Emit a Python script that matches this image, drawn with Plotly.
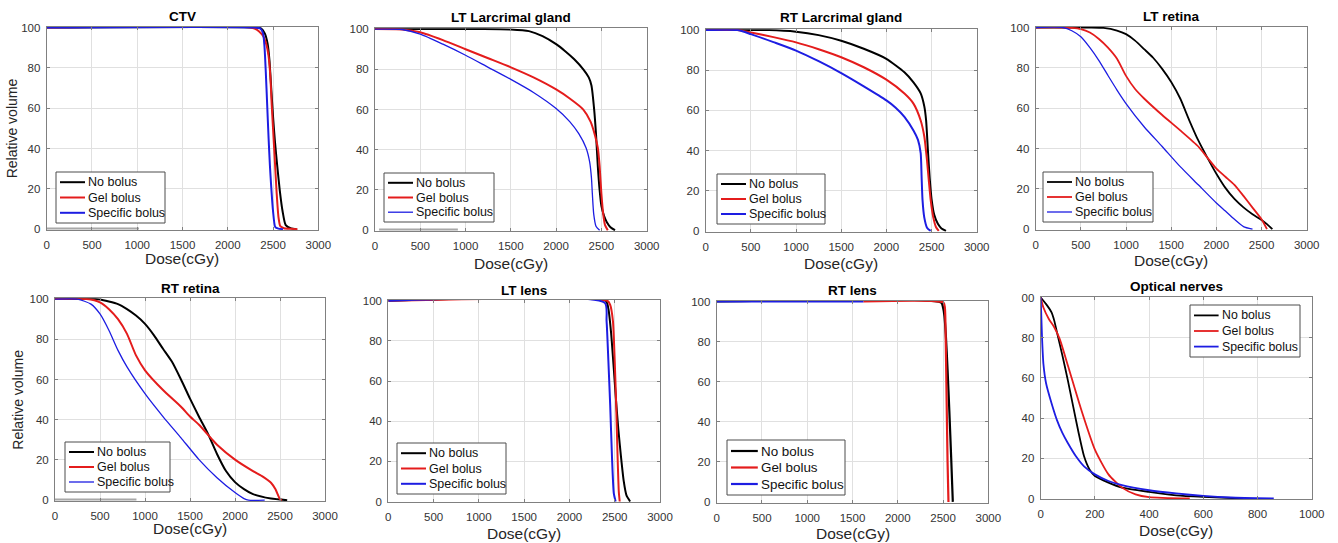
import plotly.graph_objects as go

W, H = 1338, 543
FONT = "Liberation Sans, Arial, sans-serif"

# ---------------- data (dose in cGy, relative volume in %) ----------------
# CTV
CTV_NO_X = [0, 2300, 2370, 2410, 2440, 2460, 2480, 2500, 2520, 2545, 2575, 2605, 2640, 2700, 2760]
CTV_NO_Y = [100, 100, 99.5, 97, 92, 84, 70, 56, 44, 32, 19, 9, 2, 0.4, 0]
CTV_GEL_X = [0, 2250, 2320, 2370, 2400, 2430, 2450, 2470, 2485, 2500, 2520, 2540, 2560, 2580, 2620, 2700, 2770]
CTV_GEL_Y = [100, 100, 99, 97, 95, 91, 86, 76, 62, 50, 34, 18, 6, 1.5, 0.5, 0.2, 0]
CTV_SPEC_X = [0, 2300, 2360, 2390, 2405, 2420, 2435, 2450, 2465, 2480, 2500, 2525, 2560, 2610]
CTV_SPEC_Y = [100, 100, 99.5, 97, 91, 78, 62, 46, 32, 21, 9, 1, 0.3, 0]

# LT lacrimal gland
LTL_NO_X = [0, 1200, 1500, 1700, 1850, 2000, 2100, 2200, 2300, 2360, 2390, 2420, 2440, 2460, 2480, 2500, 2530, 2560, 2600, 2650]
LTL_NO_Y = [100, 100, 99.8, 99, 96.5, 92.5, 89, 85, 80, 76, 72, 60, 48, 32, 20, 12, 7, 4, 1.5, 0]
LTL_GEL_X = [0, 300, 500, 750, 1000, 1250, 1500, 1750, 2000, 2150, 2300, 2380, 2430, 2460, 2480, 2500, 2520, 2540, 2570]
LTL_GEL_Y = [100, 99.8, 98.4, 94.5, 90, 85.5, 81, 76, 70, 65.5, 60, 54, 47, 41, 32, 18, 8, 2.5, 0]
LTL_SPEC_X = [0, 300, 500, 750, 1000, 1250, 1500, 1750, 2000, 2150, 2250, 2330, 2370, 2390, 2400, 2415, 2440, 2480]
LTL_SPEC_Y = [100, 99.8, 97.5, 92.5, 87, 81, 75, 68.5, 60.5, 54, 48, 41, 34, 26, 18, 8, 2, 0]

# RT lacrimal gland
RTL_NO_X = [0, 700, 1000, 1250, 1500, 1750, 2000, 2200, 2300, 2380, 2420, 2440, 2460, 2480, 2500, 2530, 2570, 2610, 2660]
RTL_NO_Y = [100, 100, 99.2, 97.5, 94.7, 90.7, 85.7, 79, 74, 68.5, 62, 55, 40, 26, 16, 8, 3.5, 1.2, 0]
RTL_GEL_X = [0, 350, 500, 750, 1000, 1250, 1500, 1750, 2000, 2200, 2300, 2380, 2420, 2450, 2470, 2490, 2520, 2550, 2580]
RTL_GEL_Y = [100, 100, 98.8, 96.5, 93.9, 90.5, 86.5, 81.5, 75.3, 68.4, 63.4, 55, 47, 35, 25, 15.6, 6.6, 1.8, 0]
RTL_SPEC_X = [0, 350, 500, 750, 1000, 1250, 1500, 1750, 2000, 2100, 2200, 2300, 2350, 2380, 2390, 2400, 2420, 2450, 2490]
RTL_SPEC_Y = [100, 100, 98, 94, 89.8, 84.5, 78.6, 72, 65, 61.5, 56.8, 50, 45.3, 38.7, 27, 15.6, 6.6, 1.6, 0]

# LT retina
LTR_NO_X = [0, 600, 750, 900, 1000, 1100, 1200, 1300, 1400, 1500, 1600, 1700, 1800, 1900, 2000, 2100, 2200, 2300, 2400, 2500, 2560, 2620]
LTR_NO_Y = [100, 100, 99.8, 98.5, 96.7, 93.5, 89.3, 85, 79.5, 73, 64.8, 54, 44, 35.5, 27.5, 20.5, 15, 10.8, 7.4, 4.6, 2.5, 0]
LTR_GEL_X = [0, 300, 400, 500, 600, 700, 800, 900, 1000, 1100, 1200, 1400, 1600, 1800, 1900, 2000, 2100, 2200, 2300, 2400, 2500, 2560]
LTR_GEL_Y = [100, 100, 99.8, 99.2, 97.5, 94.3, 90, 84.5, 76, 69.5, 64.8, 56.6, 49, 41, 35.5, 30, 26, 22, 16.5, 10.7, 4.9, 0]
LTR_SPEC_X = [0, 300, 400, 500, 600, 700, 800, 900, 1000, 1200, 1400, 1600, 1800, 2000, 2100, 2200, 2300, 2400]
LTR_SPEC_Y = [100, 100, 98.4, 95.4, 90, 83.6, 76.2, 69, 62.3, 50.8, 41, 31, 22, 13, 9, 4.9, 1.3, 0]

# RT retina
RTR_NO_X = [0, 450, 500, 700, 800, 900, 1000, 1100, 1200, 1300, 1400, 1500, 1600, 1700, 1800, 1900, 2000, 2100, 2200, 2400, 2580]
RTR_NO_Y = [100, 100, 99.8, 97.5, 95, 91.8, 87.7, 82, 75.3, 68.8, 60, 50.5, 41.5, 33, 23, 14.5, 9, 5.5, 3, 0.8, 0]
RTR_GEL_X = [0, 350, 500, 600, 700, 800, 900, 1000, 1200, 1400, 1500, 1600, 1750, 1800, 2000, 2200, 2300, 2400, 2450, 2500, 2520]
RTR_GEL_Y = [100, 100, 98.4, 95, 90, 82.7, 72, 64.6, 54.8, 46.5, 41.6, 37.5, 30, 27.6, 20.2, 14.5, 12, 8.7, 5.4, 0.5, 0]
RTR_SPEC_X = [0, 250, 400, 500, 600, 700, 800, 1000, 1200, 1400, 1600, 1800, 2000, 2100, 2150, 2330]
RTR_SPEC_Y = [100, 100, 97.5, 92.6, 84.4, 74.5, 66.3, 53, 41.6, 31, 20.2, 11.2, 3.8, 0.8, 0, 0]

# LT lens
LTN_NO_X = [0, 2400, 2430, 2460, 2490, 2515, 2540, 2570, 2600, 2630, 2670]
LTN_NO_Y = [100, 100, 96, 84, 66, 50, 36, 22, 10, 3, 0]
LTN_GEL_X = [0, 2420, 2450, 2480, 2500, 2515, 2530, 2545, 2555]
LTN_GEL_Y = [100, 100, 98, 90, 70, 50, 25, 5, 0]
LTN_SPEC_X = [0, 2390, 2410, 2430, 2450, 2470, 2490, 2510]
LTN_SPEC_Y = [100, 99, 90, 70, 48, 22, 4, 0]

# RT lens
RTN_NO_X = [0, 2480, 2500, 2515, 2530, 2550, 2570, 2590, 2608]
RTN_NO_Y = [100, 99.5, 97, 93, 84, 66, 45, 22, 0]
RTN_GEL_X = [1620, 2505, 2520, 2530, 2540, 2550, 2560]
RTN_GEL_Y = [100, 99.5, 97, 80, 50, 20, 0]
RTN_SPEC_X = [0, 1620]
RTN_SPEC_Y = [100, 100]

# Optical nerves
ON_NO_X = [0, 20, 40, 50, 60, 80, 100, 120, 140, 160, 180, 200, 250, 300, 400, 500, 600, 750]
ON_NO_Y = [100, 96.7, 92.6, 88.5, 82.7, 71.2, 58.9, 45.7, 32.6, 21, 14.5, 11.2, 7.9, 5.4, 3.3, 1.6, 0.8, 0]
ON_GEL_X = [0, 10, 30, 50, 70, 100, 150, 200, 250, 300, 350, 400, 550]
ON_GEL_Y = [100, 95, 89.3, 85.2, 79.4, 66.3, 44, 24.3, 12, 5.4, 2.1, 0.7, 0]
ON_SPEC_X = [0, 5, 10, 20, 40, 60, 80, 100, 130, 160, 200, 250, 300, 400, 500, 600, 700, 860]
ON_SPEC_Y = [100, 80, 67, 57.2, 47.4, 39, 32.6, 27.6, 21, 16, 12, 8.7, 6.6, 4.1, 2.5, 1.3, 0.5, 0]

SERIES_NAMES = ["No bolus", "Gel bolus", "Specific bolus"]
PANEL_TITLES = ["CTV", "LT Larcrimal gland", "RT Larcrimal gland", "LT retina",
                "RT retina", "LT lens", "RT lens", "Optical nerves"]
X_LABEL = "Dose(cGy)"
Y_LABEL = "Relative volume"
DOSE_TICKS = [0, 500, 1000, 1500, 2000, 2500, 3000]
NERVE_TICKS = [0, 200, 400, 600, 800, 1000]
VOL_TICKS = [0, 20, 40, 60, 80, 100]
VOL_TICKTEXT_CLIPPED = ["0", "20", "40", "60", "80", "00"]

PANEL_DATA = [
    [(CTV_NO_X, CTV_NO_Y), (CTV_GEL_X, CTV_GEL_Y), (CTV_SPEC_X, CTV_SPEC_Y)],
    [(LTL_NO_X, LTL_NO_Y), (LTL_GEL_X, LTL_GEL_Y), (LTL_SPEC_X, LTL_SPEC_Y)],
    [(RTL_NO_X, RTL_NO_Y), (RTL_GEL_X, RTL_GEL_Y), (RTL_SPEC_X, RTL_SPEC_Y)],
    [(LTR_NO_X, LTR_NO_Y), (LTR_GEL_X, LTR_GEL_Y), (LTR_SPEC_X, LTR_SPEC_Y)],
    [(RTR_NO_X, RTR_NO_Y), (RTR_GEL_X, RTR_GEL_Y), (RTR_SPEC_X, RTR_SPEC_Y)],
    [(LTN_NO_X, LTN_NO_Y), (LTN_GEL_X, LTN_GEL_Y), (LTN_SPEC_X, LTN_SPEC_Y)],
    [(RTN_NO_X, RTN_NO_Y), (RTN_GEL_X, RTN_GEL_Y), (RTN_SPEC_X, RTN_SPEC_Y)],
    [(ON_NO_X, ON_NO_Y), (ON_GEL_X, ON_GEL_Y), (ON_SPEC_X, ON_SPEC_Y)],
]

# ---------------- style / layout (pixels) ----------------
COLORS = ["#000000", "#e41c1c", "#1d1de2"]
FRAME = "#808080"
GRID = "#e0e0e0"
TICKC = "#333333"

# axes box in pixels: left, top, right, bottom
BOXES = [(46.7, 26.7, 318.3, 230), (375, 28.3, 646.7, 231), (705.7, 29.3, 976.7, 231.7),
         (1035.7, 26.7, 1306.7, 230), (55, 298.3, 325, 501), (388.3, 300, 660, 502.3),
         (716.7, 300.7, 988.3, 502.7), (1040.7, 296.7, 1311.7, 499.3)]
TITLE_Y = [16.7, 17.3, 17.7, 16.7, 288.3, 290, 290.7, 286]
XLAB_Y = [258.5, 263, 263, 260, 528, 533.5, 533.5, 530.5]
# legend box: left, top, width, height (pixels) and font size
LEGEND_BOX = [(56, 172, 109, 51), (384, 173, 110, 49), (717, 174, 108, 50), (1043, 172, 110, 50),
              (65, 442, 105, 50), (397, 443, 109, 51), (727, 440, 118, 55), (1190, 305, 110, 52)]
LEGEND_FONT = [12.5, 12.5, 12.5, 12.5, 12.5, 12.5, 13.4, 12.3]
LINE_W = [[2.0, 2.0, 2.0], [2.0, 2.0, 1.3], [2.0, 2.0, 2.0], [1.8, 1.8, 1.3],
          [2.0, 2.0, 1.3], [2.0, 2.0, 2.0], [2.2, 2.2, 2.2], [1.8, 1.8, 1.8]]
# faint grey double-line artefact along the bottom axis of some panels: (panel, x-from, x-to)
BOTTOM_STREAKS = [(0, 0, 1020), (1, 45, 915), (4, 0, 905)]


def px_x(p):
    return p / W


def px_y(p):
    return 1 - p / H


fig = go.Figure()
annotations = []
shapes = []
layout = dict(
    template="none",
    width=W, height=H,
    margin=dict(l=0, r=0, t=0, b=0, pad=0, autoexpand=False),
    paper_bgcolor="white", plot_bgcolor="white",
    font=dict(family=FONT, color=TICKC),
    showlegend=False,
)

for i in range(8):
    n = i + 1
    xa = "x" if n == 1 else f"x{n}"
    ya = "y" if n == 1 else f"y{n}"
    for j, (xs, ys) in enumerate(PANEL_DATA[i]):
        fig.add_trace(go.Scatter(
            x=xs, y=ys, mode="lines", name=SERIES_NAMES[j],
            line=dict(color=COLORS[j], width=LINE_W[i][j], shape="spline", smoothing=0.6),
            xaxis=xa, yaxis=ya, showlegend=False,
        ))
    l, t, r, b = BOXES[i]
    nerves = (i == 7)
    xticks = NERVE_TICKS if nerves else DOSE_TICKS
    xmax = 1000 if nerves else 3000
    axis_common = dict(
        showline=True, linecolor=FRAME, linewidth=1, mirror="ticks",
        ticks="inside", ticklen=3, tickcolor=FRAME, tickwidth=1,
        showgrid=True, gridcolor=GRID, gridwidth=1, zeroline=False,
        tickfont=dict(family=FONT, size=11.5, color=TICKC),
        fixedrange=True, automargin=False,
    )
    layout["xaxis" if n == 1 else f"xaxis{n}"] = dict(
        axis_common, domain=[px_x(l), px_x(r)], range=[0, xmax],
        tickmode="array", tickvals=xticks, ticktext=[str(v) for v in xticks],
        anchor=ya, ticklabelstandoff=4,
    )
    layout["yaxis" if n == 1 else f"yaxis{n}"] = dict(
        axis_common, domain=[px_y(b), px_y(t)], range=[-0.4, 100.4],
        tickmode="array", tickvals=VOL_TICKS,
        ticktext=VOL_TICKTEXT_CLIPPED if nerves else [str(v) for v in VOL_TICKS],
        anchor=xa, ticklabelstandoff=3,
    )

    # legend (box, sample lines, labels)
    lx, ly, lw, lh = LEGEND_BOX[i]
    fs = LEGEND_FONT[i]
    shapes.append(dict(type="rect", xref="paper", yref="paper",
                       x0=px_x(lx), x1=px_x(lx + lw), y0=px_y(ly + lh), y1=px_y(ly),
                       line=dict(color="#4d4d4d", width=1), fillcolor="white", layer="above"))
    seg = 2.0 * fs
    for j, name in enumerate(SERIES_NAMES):
        ry = ly + lh * (0.2 + 0.3 * j)
        shapes.append(dict(type="line", xref="paper", yref="paper",
                           x0=px_x(lx + 4), x1=px_x(lx + 4 + seg), y0=px_y(ry), y1=px_y(ry),
                           line=dict(color=COLORS[j], width=LINE_W[i][j]), layer="above"))
        annotations.append(dict(
            text=name, x=px_x(lx + 5 + seg), y=px_y(ry), xref="paper", yref="paper",
            xanchor="left", yanchor="middle", showarrow=False,
            font=dict(family=FONT, size=fs, color="#111111"),
        ))

    cx = (l + r) / 2
    annotations.append(dict(
        text=f"<b>{PANEL_TITLES[i]}</b>", x=px_x(cx), y=px_y(TITLE_Y[i]),
        xref="paper", yref="paper", xanchor="center", yanchor="middle",
        showarrow=False, font=dict(family=FONT, size=13.5, color="#000000"),
    ))
    annotations.append(dict(
        text=X_LABEL, x=px_x(cx), y=px_y(XLAB_Y[i]),
        xref="paper", yref="paper", xanchor="center", yanchor="middle",
        showarrow=False, font=dict(family=FONT, size=15.5, color="#262626"),
    ))

for (p, xa0, xa1) in BOTTOM_STREAKS:
    n = p + 1
    shapes.append(dict(type="line",
                       xref="x" if n == 1 else f"x{n}", yref="y" if n == 1 else f"y{n}",
                       x0=xa0, x1=xa1, y0=0.3, y1=0.3,
                       line=dict(color="#a8a8a8", width=2), layer="below"))

# y-axis labels (left column only)
for (ylx, box) in [(12, BOXES[0]), (18, BOXES[4])]:
    annotations.append(dict(
        text=Y_LABEL, x=px_x(ylx), y=px_y((box[1] + box[3]) / 2),
        xref="paper", yref="paper", xanchor="center", yanchor="middle",
        textangle=-90, showarrow=False,
        font=dict(family=FONT, size=14, color="#262626"),
    ))

layout["annotations"] = annotations
layout["shapes"] = shapes
fig.update_layout(**layout)
fig.write_html(
    "out.html",
    config={"displayModeBar": False},
    post_script="document.body.style.margin='0';document.body.style.padding='0';",
)
